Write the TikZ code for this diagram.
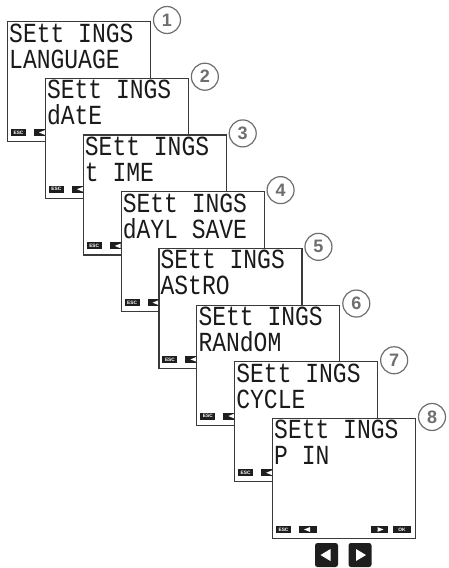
\documentclass[tikz,border=0pt]{standalone}
\usepackage{fontspec}
\setmainfont{Liberation Sans}
\setsansfont{Liberation Sans}
\newfontfamily\lcdfont{Liberation Mono}
\definecolor{scrcol}{HTML}{3A3A3A}
\definecolor{lcdcol}{HTML}{1A1A1A}
\definecolor{keycol}{HTML}{1E1E1E}
\definecolor{numcol}{HTML}{6E6E6E}
\begin{document}
\begin{tikzpicture}[x=1pt,y=-1pt,
  screen/.style={draw=scrcol, line width=1.1pt, fill=white, minimum width=143pt, minimum height=120pt, anchor=north west, inner sep=0pt},
  lcd/.style={anchor=base west, inner sep=0pt, text height=18pt, text depth=0pt, text=lcdcol, font=\lcdfont\fontsize{23}{23}\selectfont},
  key/.style={fill=keycol, minimum width=15pt, minimum height=7pt, inner sep=0pt, text height=3.5pt, text depth=0pt, text=white, font=\sffamily\bfseries\fontsize{4.8}{4.8}\selectfont},
  num/.style={circle, draw=numcol, line width=1.2pt, fill=white, minimum size=27pt, inner sep=0pt, text=numcol, font=\sffamily\bfseries\fontsize{18}{18}\selectfont},
  bigkey/.style={fill=keycol, rounded corners=2.5pt, minimum width=23pt, minimum height=24pt, inner sep=0pt}]
\useasboundingbox (0,0) rectangle (448,568);
\foreach \txt [count=\n from 0] in {LANGUAGE,dAtE,t IME,dAYL SAVE,AStRO,RANdOM,CYCLE,P IN} {
  \pgfmathsetmacro\L{7+37.86*\n}
  \pgfmathsetmacro\T{21+56.71*\n}
  \pgfmathsetmacro\B{\T+120}
  \pgfmathsetmacro\R{\L+143}
  \pgfmathtruncatemacro\k{\n+1}
  \node[screen] (scr\k) at (\L,\T) {};
  \node[lcd] (ta\k) at (\L+2,\T+21) {\scalebox{1}[1.2]{SEtt INGS}};
  \node[lcd] (tb\k) at (\L+2,\T+47) {\scalebox{1}[1.2]{\txt}};
  \node[key] (esc\k) at (\L+11.5,\B-8.5) {ESC};
  \node[key, minimum width=18pt] (lft\k) at (\L+36,\B-8.5) {};
  \fill[white] (lft\k.center) ++(-4,0) -- ++(6,-2.4) -- ++(0,4.8) -- cycle;
  \ifnum\k=8
    \node[key, minimum width=17pt] (rgt\k) at (\L+107.5,\B-8.5) {};
    \fill[white] (rgt\k.center) ++(4,0) -- ++(-6,-2.4) -- ++(0,4.8) -- cycle;
    \node[key, minimum width=18pt] (ok\k) at (\L+130,\B-8.5) {OK};
  \fi
  \node[num] (num\k) at (\R+17,\T-1) {\k};
}
\node[bigkey] (bl) at (326.5,555) {};
\fill[white] (bl.center) ++(-6,0) -- ++(10,-6) -- ++(0,12) -- cycle;
\node[bigkey] (br) at (360,555) {};
\fill[white] (br.center) ++(6,0) -- ++(-10,-6) -- ++(0,12) -- cycle;
\end{tikzpicture}
\end{document}
